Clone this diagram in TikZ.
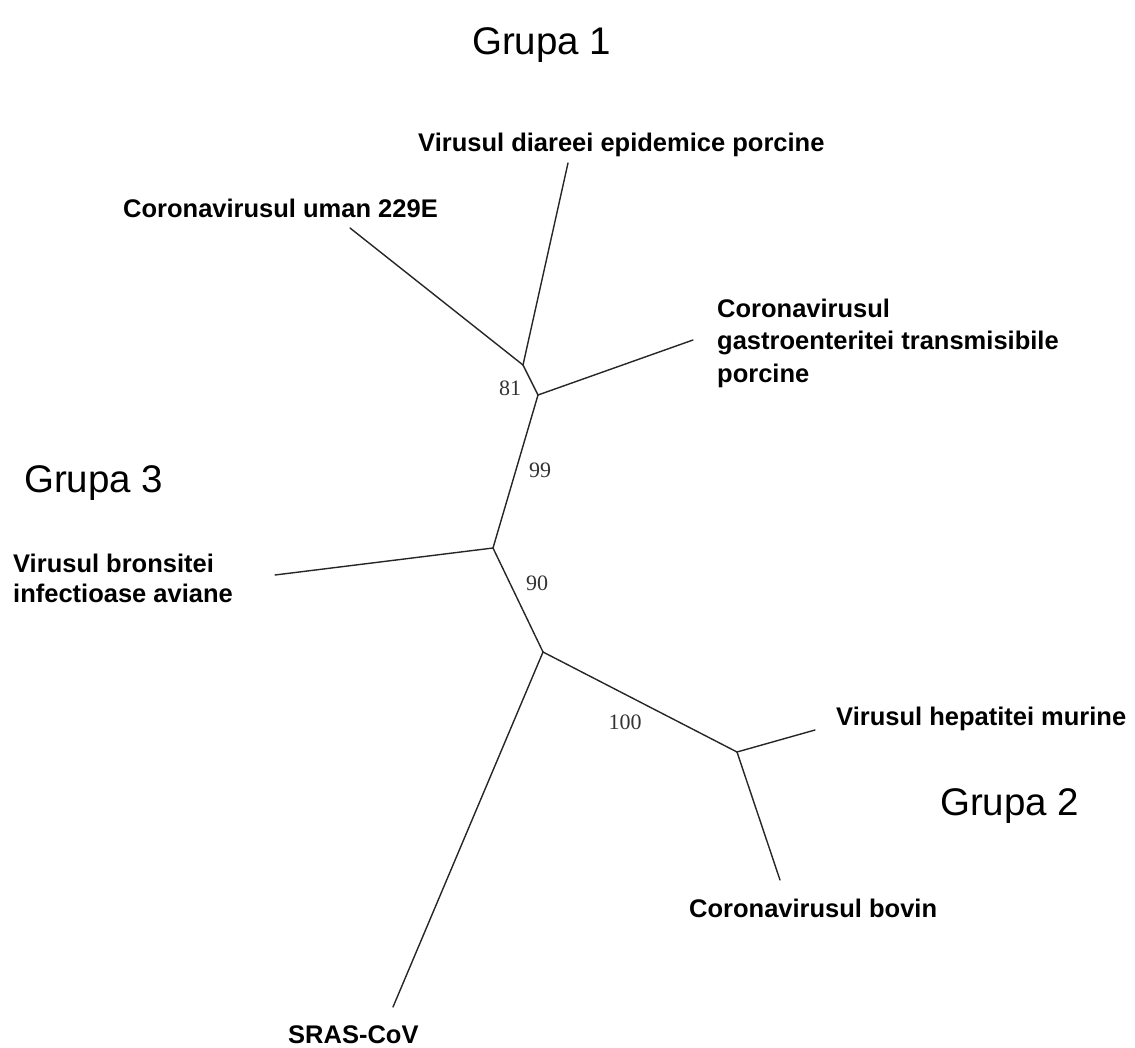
\documentclass[tikz,border=0pt]{standalone}
\usepackage{fontspec}
\setmainfont{Liberation Sans}
\newfontfamily\numfont{Liberation Serif}
\begin{document}
\begin{tikzpicture}[x=1pt,y=-1pt,
  branch/.style={line width=1.4pt, draw=black!85, line cap=round, line join=round},
  grp/.style={font=\fontsize{38.5}{40}\selectfont, inner sep=0pt},
  lbl/.style={font=\bfseries\fontsize{25.5}{31.5}\selectfont, inner sep=0pt, align=left},
  boot/.style={font=\numfont\fontsize{22}{22}\selectfont, inner sep=0pt, text=black!80}]
\useasboundingbox (0,0) rectangle (1135,1048);
% internal nodes
\coordinate (A) at (523,365);
\coordinate (B) at (538,395);
\coordinate (C) at (493,548);
\coordinate (D) at (543,652);
\coordinate (E) at (737,752);
% leaf ends
\coordinate (lPED) at (568,163);
\coordinate (lHCoV) at (350,228);
\coordinate (lTGEV) at (693,340);
\coordinate (lIBV) at (275,575);
\coordinate (lSARS) at (393,1007);
\coordinate (lMHV) at (815,730);
\coordinate (lBCoV) at (780,880);
% branches
\draw[branch] (lPED) -- (A);
\draw[branch] (lHCoV) -- (A);
\draw[branch] (A) -- (B);
\draw[branch] (B) -- (lTGEV);
\draw[branch] (B) -- (C);
\draw[branch] (C) -- (lIBV);
\draw[branch] (C) -- (D);
\draw[branch] (D) -- (lSARS);
\draw[branch] (D) -- (E);
\draw[branch] (E) -- (lMHV);
\draw[branch] (E) -- (lBCoV);
% group titles
\node[grp, anchor=base west] (g1) at (472,55) {Grupa 1};
\node[grp, anchor=base west] (g3) at (24,492) {Grupa 3};
\node[grp, anchor=base west] (g2) at (940,815) {Grupa 2};
% leaf labels
\node[lbl, anchor=base west] (tPED) at (418,152) {Virusul diareei epidemice porcine};
\node[lbl, anchor=base west] (tHCoV) at (123,218) {Coronavirusul uman 229E};
\node[lbl, anchor=base west] (tTGEV) at (717,318) {Coronavirusul};
\node[lbl, anchor=base west] (tTGEV2) at (717,350) {gastroenteritei transmisibile};
\node[lbl, anchor=base west] (tTGEV3) at (717,382) {porcine};
\node[lbl, anchor=base west] (tIBV) at (13,572) {Virusul bronsitei};
\node[lbl, anchor=base west] (tIBV2) at (13,602) {infectioase aviane};
\node[lbl, anchor=base west] (tMHV) at (836,725) {Virusul hepatitei murine};
\node[lbl, anchor=base west] (tBCoV) at (689,917) {Coronavirusul bovin};
\node[lbl, anchor=base west] (tSARS) at (288,1043) {SRAS-CoV};
% bootstrap values
\node[boot] (b81) at (510,388) {81};
\node[boot] (b99) at (540,470) {99};
\node[boot] (b90) at (537,583) {90};
\node[boot] (b100) at (625,722) {100};
\end{tikzpicture}
\end{document}
